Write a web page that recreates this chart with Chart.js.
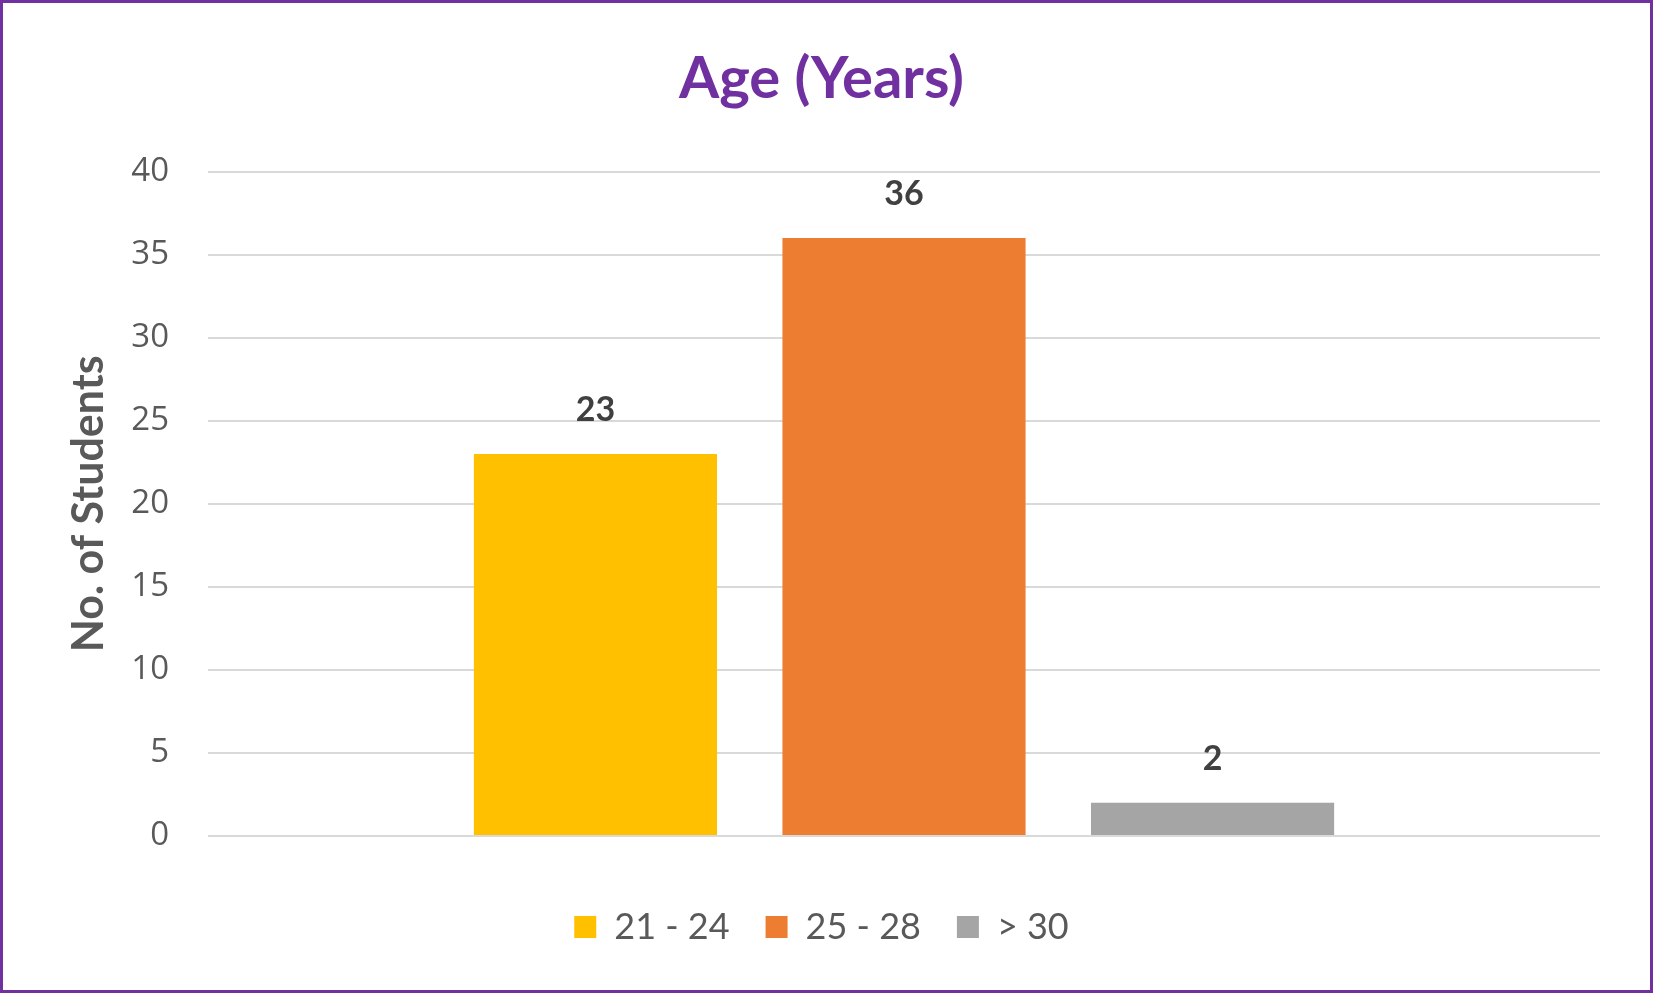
<!DOCTYPE html>
<html>
<head>
<meta charset="utf-8">
<script src="https://cdn.jsdelivr.net/npm/chart.js@4"></script>
<style>
  html, body { margin: 0; padding: 0; background: #fff; }
  #wrap {
    width: 1653px; height: 993px; box-sizing: border-box;
    border: 3px solid #7030A0; background: #fff;
  }
</style>
</head>
<body>
<div id="wrap"><canvas id="myChart" width="1647" height="987"></canvas></div>
<script>
const categories = ["Age"];
const seriesNames = ["21 - 24", "25 - 28", "> 30"];
const seriesValues = [[23], [36], [2]];
const seriesColors = ["#FFC000", "#ED7D31", "#A5A5A5"];
const yTicks = [0, 5, 10, 15, 20, 25, 30, 35, 40];

// value labels above each bar
const barLabels = {
    id: "barLabels",
    afterDatasetsDraw(chart) {
        const ctx = chart.ctx;
        ctx.save();
        ctx.font = "bold 34px Lato";
        ctx.fillStyle = "#404040";
        ctx.textAlign = "center";
        ctx.textBaseline = "middle";
        chart.data.datasets.forEach((ds, i) => {
            chart.getDatasetMeta(i).data.forEach((bar, j) => {
                ctx.fillText(String(ds.data[j]), bar.x, bar.y - 44);
            });
        });
        ctx.restore();
    }
};

const ctx = document.getElementById("myChart").getContext("2d");
new Chart(ctx, {
    type: "bar",
    data: {
        labels: categories,
        datasets: seriesNames.map((name, i) => ({
            label: name,
            data: seriesValues[i],
            backgroundColor: seriesColors[i],
            borderWidth: 0,
            categoryPercentage: 0.665,
            barPercentage: 0.788
        }))
    },
    options: {
        responsive: false,
        animation: false,
        layout: { padding: { top: 41, left: 40, right: 50, bottom: 35 } },
        plugins: {
            title: {
                display: true,
                text: "Age (Years)",
                color: "#7030A0",
                font: { family: "Lato", size: 58, weight: "bold", lineHeight: 1.2 },
                padding: { top: 0, bottom: 58 }
            },
            legend: {
                position: "bottom",
                labels: {
                    color: "#595959",
                    font: { family: "Lato", size: 36 },
                    boxWidth: 22,
                    boxHeight: 22,
                    padding: 36
                }
            },
            tooltip: { enabled: false }
        },
        scales: {
            x: {
                afterFit: axis => { axis.height = 37; },
                ticks: { display: false },
                grid: { display: false },
                border: { display: false }
            },
            y: {
                min: 0,
                max: 40,
                afterBuildTicks: axis => { axis.ticks = yTicks.map(v => ({ value: v })); },
                afterFit: axis => { axis.width = 165; },
                ticks: {
                    color: "#595959",
                    padding: 39,
                    font: { family: "Open Sans", size: 33 }
                },
                grid: { color: "#D9D9D9", lineWidth: 2, drawTicks: false },
                border: { display: false },
                title: {
                    display: true,
                    text: "No. of Students",
                    color: "#595959",
                    font: { family: "Lato", size: 43, weight: "bold" },
                    padding: { top: 20, bottom: 0 }
                }
            }
        }
    },
    plugins: [barLabels]
});
</script>
</body>
</html>
